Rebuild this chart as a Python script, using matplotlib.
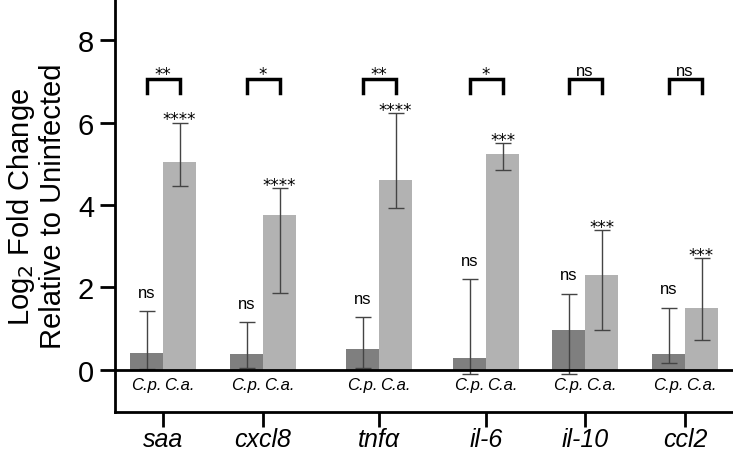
import matplotlib.pyplot as plt
import numpy as np

plt.rcParams['font.family'] = ['Liberation Sans', 'DejaVu Sans']

genes = ['saa', 'cxcl8', 'tnf\u03b1', 'il-6', 'il-10', 'ccl2']
# C.p. (dark) and C.a. (light) means with error bar low/high ends
cp_mean = [0.40, 0.37, 0.50, 0.28, 0.96, 0.37]
cp_low = [0.02, 0.04, 0.05, -0.10, -0.10, 0.17]
cp_high = [1.42, 1.15, 1.27, 2.20, 1.85, 1.50]
ca_mean = [5.05, 3.75, 4.60, 5.24, 2.30, 1.50]
ca_low = [4.47, 1.87, 3.93, 4.84, 0.96, 0.71]
ca_high = [6.00, 4.41, 6.23, 5.50, 3.38, 2.70]
cp_sig = ['ns', 'ns', 'ns', 'ns', 'ns', 'ns']
ca_sig = ['****', '****', '****', '***', '***', '***']
pair_sig = ['**', '*', '**', '*', 'ns', 'ns']

group_pos = np.array([0, 1.0, 2.16, 3.23, 4.22, 5.22])
w = 0.33

fig = plt.figure(figsize=(7.33, 4.52), dpi=100)
ax = fig.add_axes([0.157, 0.086, 0.843, 0.914])

xcp = group_pos - w / 2
xca = group_pos + w / 2
cp_mean = np.array(cp_mean)
ca_mean = np.array(ca_mean)

ax.bar(xcp, cp_mean, width=w, color='#7f7f7f', zorder=1)
ax.bar(xca, ca_mean, width=w, color='#b2b2b2', zorder=1)
ekw = dict(fmt='none', ecolor='#444444', elinewidth=1, capsize=6, capthick=1, zorder=2)
ax.errorbar(xcp, cp_mean, yerr=[cp_mean - np.array(cp_low), np.array(cp_high) - cp_mean], **ekw)
ax.errorbar(xca, ca_mean, yerr=[ca_mean - np.array(ca_low), np.array(ca_high) - ca_mean], **ekw)

ax.axhline(0, color='black', lw=2, zorder=3)

def star_text(x, y, s):
    # asterisks drawn in DejaVu (bigger glyph), 'ns' in the sans font
    if s == 'ns':
        ax.text(x, y, s, ha='center', va='bottom', fontsize=12)
    else:
        ax.text(x, y - 0.12, s, ha='center', va='bottom', fontsize=12, family='DejaVu Sans')

for i in range(len(genes)):
    star_text(xcp[i], cp_high[i] + 0.28, cp_sig[i])
    star_text(xca[i], ca_high[i] - 0.02, ca_sig[i])
    ax.plot([xcp[i], xcp[i], xca[i], xca[i]], [6.72, 7.05, 7.05, 6.72], color='black', lw=2.5,
            solid_joinstyle='miter', zorder=3)
    star_text(group_pos[i], 7.08, pair_sig[i])
    ax.text(xcp[i], -0.35, 'C.p.', ha='center', va='center', fontsize=12, style='italic')
    ax.text(xca[i], -0.35, 'C.a.', ha='center', va='center', fontsize=12, style='italic')

ax.set_xlim(-0.48, 5.70)
ax.set_ylim(-1.03, 9.0)
ax.set_yticks([0, 2, 4, 6, 8])
ax.set_xticks(group_pos)
ax.set_xticklabels(genes, fontsize=18, style='italic')
ax.tick_params(axis='y', labelsize=21, width=2, length=11, pad=4)
ax.tick_params(axis='x', width=2, length=11, pad=0)
for s in ['top', 'right']:
    ax.spines[s].set_visible(False)
for s in ['left', 'bottom']:
    ax.spines[s].set_linewidth(2)
ax.set_ylabel('Log$_2$ Fold Change\nRelative to Uninfected', fontsize=21, labelpad=8,
              linespacing=1.1)

fig.savefig('out.png', dpi=100)
